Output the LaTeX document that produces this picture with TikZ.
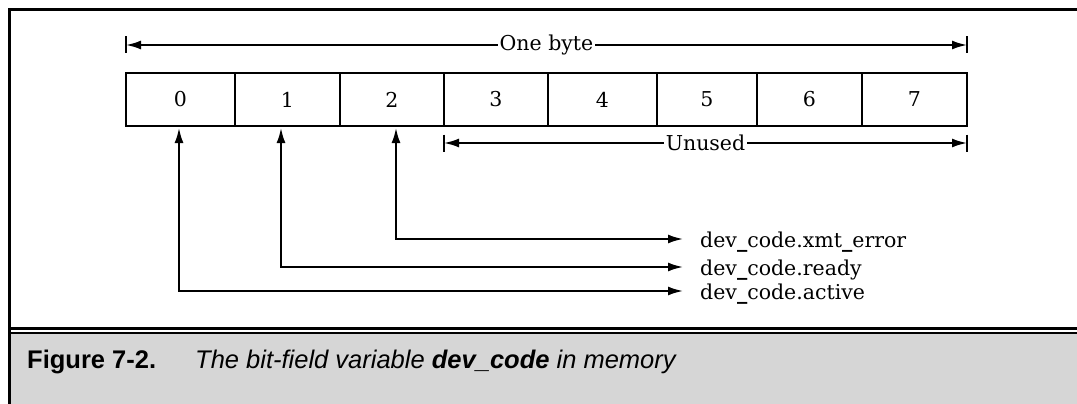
\documentclass[tikz,border=0pt]{standalone}
\usepackage{fontspec}
\newfontfamily\capfont{Liberation Sans}
\newfontfamily\figfont{DejaVu Serif}
\usetikzlibrary{arrows.meta}
\definecolor{capgray}{RGB}{214,214,214}
% heavier underscore for the field names
\newcommand\usc{{\bfseries\_}}

\begin{document}
\begin{tikzpicture}[x=1pt,y=-1pt,
  every node/.style={font=\figfont\fontsize{20.5}{24}\selectfont},
  cell/.style={draw, line width=2.4pt, minimum height=53pt, inner sep=0pt, outer sep=0pt},
  conn/.style={line width=2pt},
  tipped/.style={conn, {Latex[length=15pt,width=9pt]}-{Latex[length=15pt,width=9pt]}},
  dimlabel/.style={fill=white, inner xsep=2pt, inner ysep=1pt},
  fieldlabel/.style={anchor=base west, inner sep=0pt},
  captext/.style={anchor=base west, inner sep=0pt, font=\capfont\fontsize{25.5}{30}\selectfont}
]
\useasboundingbox (0,0) rectangle (1077,404);

% caption band
\fill[capgray] (11,334) rectangle (1077,404);

% frame and separator rules
\draw[line width=3pt] (9.5,404) -- (9.5,9.5) -- (1077,9.5);
\draw[line width=3pt] (9.5,328.5) -- (1077,328.5);
\draw[line width=2pt] (9.5,332.5) -- (1077,332.5);

% the eight bits of the byte
\foreach \i/\a/\b in {0/126/235,1/235/340,2/340/444,3/444/548,4/548/657,5/657/757,6/757/862,7/862/967}{
  \pgfmathsetmacro\w{\b-\a}
  \node[cell, minimum width=\w pt] (c\i) at ({(\a+\b)/2},99.5) {\i};
}

% dimension lines
\coordinate (ob) at (0,45);
\coordinate (un) at (0,143);
\coordinate (obL) at (c0.west |- ob);
\coordinate (obR) at (c7.east |- ob);
\coordinate (unL) at (c3.west |- un);
\coordinate (unR) at (c7.east |- un);
\foreach \p in {obL,obR,unL,unR}
  \draw[conn] ([yshift=8.5pt]\p) -- ([yshift=-8.5pt]\p);
\draw[tipped] (obL) -- node[dimlabel] (onebyte) {One byte} (obR);
\draw[tipped] (unL) -- node[dimlabel] (unused) {Unused} (unR);

% field names
\node[fieldlabel] (l2) at (700,247) {dev\usc code.xmt\usc error};
\node[fieldlabel] (l1) at (700,275) {dev\usc code.ready};
\node[fieldlabel] (l0) at (700,299) {dev\usc code.active};

% connectors from bits to field names
\draw[tipped] ([shift={(4pt,-2pt)}]c2.south) |- ([shift={(-17pt,8pt)}]l2.base west);
\draw[tipped] ([shift={(-6.5pt,-2pt)}]c1.south) |- ([shift={(-17pt,8pt)}]l1.base west);
\draw[tipped] ([shift={(-1.5pt,-2pt)}]c0.south) |- ([shift={(-17pt,8pt)}]l0.base west);

% caption
\node[captext] (fig) at (27,368) {\bfseries Figure 7-2.};
\node[captext] (cap) at (195,368) {\itshape The bit-field variable \textbf{dev\_code} in memory};
\end{tikzpicture}
\end{document}
